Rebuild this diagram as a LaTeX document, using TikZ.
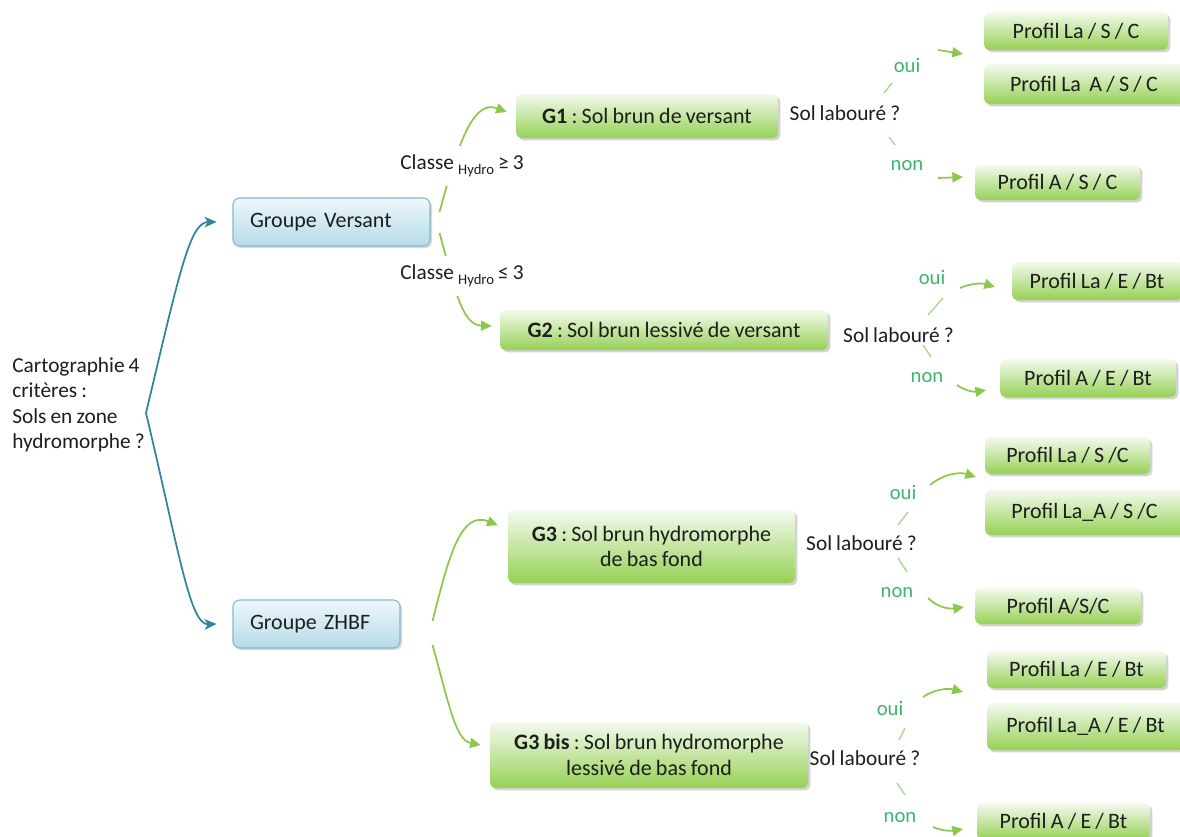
\documentclass[tikz,border=0pt]{standalone}
\usepackage{fontspec}
\setmainfont{Carlito}[WordSpace=0.85]
\frenchspacing
\usetikzlibrary{arrows.meta,shadows}
\definecolor{txt}{HTML}{1E1E1E}
\definecolor{lab}{HTML}{3DB56E}
\definecolor{garr}{HTML}{8CC84B}
\definecolor{gdash}{HTML}{A6D78A}
\definecolor{barr}{HTML}{31849B}
\definecolor{gtop}{HTML}{F4FAEE}
\definecolor{gbot}{HTML}{96D155}
\definecolor{btop}{HTML}{EEF7FB}
\definecolor{bbot}{HTML}{B5DBE8}
\definecolor{bdraw}{HTML}{86B8CB}
\newcommand\bxbox[7]{%
  \pgfmathsetmacro\bxcx{(#2+#4)/2}%
  \pgfmathsetmacro\bxcy{(#3+#5)/2}%
  \pgfmathsetmacro\bxww{(#4-#2)*0.75}%
  \pgfmathsetmacro\bxhh{(#5-#3)*0.75}%
  \node[#6, minimum width=\bxww pt, minimum height=\bxhh pt] (#1) at (\bxcx,\bxcy) {#7};}
\newcommand\hyd{\raisebox{-0.45ex}{\fontsize{11}{11}\selectfont Hydro}}
\begin{document}
\begin{tikzpicture}[x=0.75pt,y=-0.75pt,
  every node/.style={text=txt, font=\fontsize{16.5}{19}\selectfont},
  gbox/.style={rounded corners=4pt, top color=gtop, bottom color=gbot, draw=none,
    drop shadow={shadow xshift=1.8pt,shadow yshift=-1.8pt,opacity=0.35},
    inner sep=0pt, align=center},
  bbox/.style={rounded corners=5pt, top color=btop, bottom color=bbot, draw=bdraw, line width=0.8pt,
    drop shadow={shadow xshift=1.5pt,shadow yshift=-1.5pt,opacity=0.3},
    align=left, inner xsep=12.75pt, inner ysep=0pt},
  lab/.style={text=lab, font=\fontsize{15.5}{18}\selectfont},
  sol/.style={font=\fontsize{16}{19}\selectfont, inner sep=1pt},
  barrow/.style={draw=barr, line width=1.3pt, -{Stealth[length=9pt,width=8pt,inset=2.5pt]}},
  garrow/.style={draw=garr, line width=1.3pt, -{Triangle[length=8pt,width=7.5pt]}},
  gdashl/.style={draw=gdash, line width=1pt},
  clab/.style={fill=white, inner xsep=2pt, inner ysep=6.5pt, font=\fontsize{16}{19}\selectfont}
]
\useasboundingbox (0,0) rectangle (1180,836);
\fill[white] (0,0) rectangle (1180,836);

% root
\node[anchor=west, align=left, font=\fontsize{16}{19.1}\selectfont, inner sep=0pt] (cart) at (12,405)
  {Cartographie 4\\critères :\\Sols en zone\\hydromorphe ?};
\coordinate (tip) at (146,413);

% groups
\node[bbox, minimum width=147.75pt, minimum height=36pt, text width=122.25pt] (gv) at (331.5,222) {\mbox{Groupe Versant}};
\node[bbox, minimum width=125.25pt, minimum height=36pt, text width=99.75pt] (gz) at (316.5,624) {\mbox{Groupe ZHBF}};

\draw[barrow] (tip) .. controls (180,270) and (190,222) .. ([xshift=-12pt]gv.west);
\draw[barrow] (tip) .. controls (180,556) and (190,625) .. ([xshift=-12pt]gz.west);

% G boxes
\bxbox{g1}{516}{94}{778}{138}{gbox}{\textbf{G1} : Sol brun de versant}
\bxbox{g2}{500}{310}{828}{350}{gbox}{\textbf{G2} : Sol brun lessivé de versant}
\bxbox{g3}{508}{510}{795}{583}{gbox}{\textbf{G3} : Sol brun hydromorphe\\de bas fond}
\bxbox{g3b}{490}{722}{808}{788}{gbox}{\textbf{G3 bis} : Sol brun hydromorphe\\lessivé de bas fond}

\draw[garrow] ([xshift=6.75pt,yshift=7.5pt]gv.east) .. controls (460,135) and (475,100) .. ([xshift=-6.75pt,yshift=3pt]g1.west);
\draw[garrow] ([xshift=6.75pt,yshift=-8.25pt]gv.east) .. controls (455,290) and (462,325) .. ([xshift=-6pt,yshift=3pt]g2.west);
\node[clab] (c1) at (462,166) {Classe \hyd\ ≥ 3};
\node[clab] (c2) at (462,276) {Classe \hyd\ ≤ 3};

\draw[garrow] ([xshift=24pt,yshift=2.25pt]gz.east) .. controls (448,560) and (460,510) .. ([xshift=-7.5pt,yshift=16pt]g3.west);
\draw[garrow] ([xshift=24pt,yshift=-15.75pt]gz.east) .. controls (448,700) and (455,740) .. ([xshift=-6.75pt,yshift=7.5pt]g3b.west);

% Sol laboure
\node[sol] (s1) at (845,113) {Sol labouré ?};
\node[sol] (s2) at (898.5,335) {Sol labouré ?};
\node[sol] (s3) at (861.5,543) {Sol labouré ?};
\node[sol] (s4) at (865,758) {Sol labouré ?};

\node[lab] (o1) at (907,65) {oui};
\node[lab] (n1) at (907,166) {non};
\node[lab] (o2) at (932,277) {oui};
\node[lab] (n2) at (927,378) {non};
\node[lab] (o3) at (903,492) {oui};
\node[lab] (n3) at (897,593) {non};
\node[lab] (o4) at (890,708) {oui};
\node[lab] (n4) at (900,818) {non};

% dashes
\draw[gdashl] (892,83) -- (884,93);
\draw[gdashl] (889,137) -- (895,145);
\draw[gdashl] (943,298) -- (928,315);
\draw[gdashl] (923,345) -- (931,357);
\draw[gdashl] (908,512) -- (898,525);
\draw[gdashl] (898,558) -- (907,572);
\draw[gdashl] (905,728) -- (899,740);
\draw[gdashl] (897,783) -- (905,795);

% profiles
\bxbox{p1}{984}{12}{1168}{50}{gbox}{Profil La / S / C}
\bxbox{p2}{984}{64}{1184}{104}{gbox}{Profil La~~A / S / C}
\bxbox{p3}{975}{165}{1140}{200}{gbox}{Profil A / S / C}
\bxbox{p4}{1012}{262}{1182}{300}{gbox}{Profil La / E / Bt}
\bxbox{p5}{1000}{359}{1176}{397}{gbox}{Profil A / E / Bt}
\bxbox{p6}{985}{437}{1150}{474}{gbox}{Profil La / S /C}
\bxbox{p7}{985}{490}{1184}{535}{gbox}{Profil La\_A / S /C}
\bxbox{p8}{975}{588}{1141}{624}{gbox}{Profil A/S/C}
\bxbox{p9}{987}{651}{1166}{688}{gbox}{Profil La / E / Bt}
\bxbox{p10}{987}{703}{1184}{750}{gbox}{Profil La\_A / E / Bt}
\bxbox{p11}{977}{803}{1150}{840}{gbox}{Profil A / E / Bt}

% arrows to profiles
\coordinate (a1s) at (938,50);  \coordinate (a1e) at (963,54);
\coordinate (b1s) at (938,178); \coordinate (b1e) at (963,177);
\coordinate (a2s) at (960,288); \coordinate (a2e) at (995,287);
\coordinate (b2s) at (957,385); \coordinate (b2e) at (986,390);
\coordinate (a3s) at (930,485); \coordinate (a3e) at (976,477);
\coordinate (b3s) at (928,598); \coordinate (b3e) at (964,607);
\coordinate (a4s) at (923,697); \coordinate (a4e) at (963,692);
\coordinate (b4s) at (933,827); \coordinate (b4e) at (963,829);
\draw[garrow] (a1s) -- (a1e);
\draw[garrow] (b1s) -- (b1e);
\draw[garrow] (a2s) .. controls (972,283) and (982,283) .. (a2e);
\draw[garrow] (b2s) .. controls (965,391) and (975,392) .. (b2e);
\draw[garrow] (a3s) .. controls (945,473) and (960,472) .. (a3e);
\draw[garrow] (b3s) .. controls (938,608) and (950,609) .. (b3e);
\draw[garrow] (a4s) .. controls (935,689) and (948,688) .. (a4e);
\draw[garrow] (b4s) .. controls (942,831) and (952,831) .. (b4e);
\end{tikzpicture}
\end{document}
